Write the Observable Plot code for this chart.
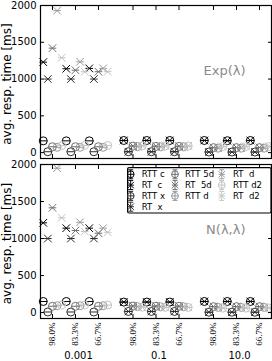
<!DOCTYPE html>
<html><head><meta charset="utf-8">
<script src="https://cdn.jsdelivr.net/npm/d3@7"></script>
<script src="https://cdn.jsdelivr.net/npm/@observablehq/plot@0.6"></script>
<style>
html,body{margin:0;padding:0;background:#fff;}
#chart{position:relative;width:272px;height:361px;overflow:hidden;font-family:"DejaVu Sans",sans-serif;}
#chart > svg{position:absolute;left:0;}
</style></head><body><div id="chart"></div>
<script>
// ---------- data ----------
const groups = ["0.001", "0.1", "10.0"];
const loads = ["98.0%", "83.3%", "66.7%"];
const methods = ["c", "x", "5d", "d", "d2"];
const panelLabels = ["Exp(λ)", "N(λ,λ)"];
const yTicks = [0, 500, 1000, 1500, 2000];
const yLabel = "avg. resp. time [ms]";

// rows: c, x, 5d, d, d2 ; columns: 0.001×(98.0,83.3,66.7), 0.1×(...), 10.0×(...)
const expRTT = [
  [160, 160, 160, 165, 165, 165, 165, 162, 165],
  [12, 12, 12, 12, 12, 12, 8, 8, 8],
  [80, 80, 80, 88, 85, 85, 68, 68, 68],
  [72, 72, 72, 80, 78, 78, 60, 60, 60],
  [95, 98, 98, 92, 90, 90, 82, 82, 82]
];
const expRT = [
  [1230, 1140, 1145, 165, 165, 165, 165, 162, 165],
  [1000, 1000, 1000, 12, 12, 12, 8, 8, 8],
  [1420, 1120, 1100, 90, 88, 88, 70, 70, 70],
  [1930, 1235, 1145, 82, 80, 80, 60, 62, 60],
  [1290, 1100, 1100, 95, 92, 92, 85, 85, 85]
];
const normRTT = [
  [150, 150, 150, 142, 142, 142, 150, 150, 150],
  [8, 8, 8, 15, 15, 15, 5, 5, 5],
  [85, 85, 85, 88, 86, 86, 80, 80, 80],
  [92, 92, 92, 80, 78, 78, 70, 70, 70],
  [102, 102, 102, 72, 70, 70, 60, 60, 60]
];
const normRT = [
  [1212, 1140, 1140, 142, 142, 142, 150, 150, 150],
  [1000, 1000, 1000, 15, 15, 15, 5, 5, 5],
  [1415, 1108, 1072, 90, 88, 88, 82, 82, 82],
  [1950, 1220, 1140, 80, 80, 80, 72, 72, 72],
  [1280, 1095, 1085, 72, 70, 70, 62, 62, 62]
];
const shades = ["#000000", "#2e2e2e", "#6e6e6e", "#9a9a9a", "#c4c4c4"];

// ---------- layout helpers ----------
const GROUP_STEP = 3.5, SLOT = 0.2;
const tickPos = groups.flatMap((g, gi) => loads.map((l, li) => gi * GROUP_STEP + li));
const tickText = new Map(groups.flatMap((g, gi) => loads.map((l, li) => [gi * GROUP_STEP + li, l])));
const groupMid = groups.map((g, gi) => gi * GROUP_STEP + 1);
const groupText = new Map(groups.map((g, gi) => [gi * GROUP_STEP + 1, g]));

function toRows(values) {
  const out = [];
  values.forEach((arr, mi) => arr.forEach((v, k) => {
    const gi = Math.floor(k / 3), li = k % 3;
    out.push({mi, group: groups[gi], load: loads[li], x: gi * GROUP_STEP + li + (mi - 2) * SLOT, y: v});
  }));
  return out;
}

const thetaSym = {draw(ctx, size) {
  const r = Math.sqrt(size / Math.PI);
  ctx.moveTo(r, 0); ctx.arc(0, 0, r, 0, 2 * Math.PI);
  ctx.moveTo(-r, 0); ctx.lineTo(r, 0);
}};
const xbarSym = {draw(ctx, size) {
  const r = Math.sqrt(size / Math.PI);
  ctx.moveTo(-r, -r); ctx.lineTo(r, r);
  ctx.moveTo(-r, r); ctx.lineTo(r, -r);
  ctx.moveTo(-r, 0); ctx.lineTo(r, 0);
}};

function panel({label, rtt, rt, height, marginTop, marginBottom, bottomLabels}) {
  const rttRows = toRows(rtt), rtRows = toRows(rt);
  const marks = [];
  methods.forEach((m, mi) => {
    marks.push(Plot.dot(rttRows.filter(d => d.mi === mi), {x: "x", y: "y", r: 4, symbol: thetaSym, stroke: shades[mi], fill: "none", strokeWidth: 1}));
    marks.push(Plot.dot(rtRows.filter(d => d.mi === mi), {x: "x", y: "y", r: 3.8, symbol: xbarSym, stroke: shades[mi], fill: "none", strokeWidth: 1}));
  });
  marks.push(
    Plot.axisY({ticks: yTicks, tickSize: 0, tickPadding: 4, tickFormat: d => String(d), label: null, fontSize: 10, fill: "#000"}),
    Plot.axisY({ticks: yTicks, tickSize: 4, dx: 4, tickFormat: () => "", label: null}),
    Plot.axisY({ticks: yTicks, anchor: "right", tickSize: 4, dx: -4, tickFormat: () => "", label: null}),
    Plot.axisX({ticks: tickPos, tickSize: 4, dy: -4, tickFormat: () => "", label: null}),
    Plot.axisX({ticks: tickPos, anchor: "top", tickSize: 4, dy: 4, tickFormat: () => "", label: null}),
    Plot.text([yLabel], {text: d => d, frameAnchor: "left", dx: -33, dy: 2, rotate: -90, textAnchor: "middle", lineAnchor: "middle", fontSize: 12, fill: "#000"}),
    Plot.text([label], {text: d => d, frameAnchor: "top-right", dx: -26, dy: 65, textAnchor: "end", lineAnchor: "middle", fontSize: 13, fill: "#8a8a8a"}),
    Plot.frame({stroke: "#000", strokeWidth: 1.2})
  );
  if (bottomLabels) {
    marks.push(
      Plot.axisX({ticks: tickPos, tickSize: 0, tickPadding: 4, tickRotate: -90, tickFormat: d => tickText.get(d), label: null, fontFamily: "Liberation Serif", fontSize: 9, fill: "#000"}),
      Plot.axisX({ticks: groupMid, tickSize: 0, tickPadding: 33, dx: 3, tickFormat: d => groupText.get(d), label: null, fontSize: 10, fill: "#000"})
    );
  }
  return Plot.plot({
    width: 272, height, marginTop, marginBottom, marginLeft: 40, marginRight: 1,
    x: {type: "linear", domain: [-0.52, 9.52]},
    y: {domain: [-80, 2000]},
    style: {fontFamily: "DejaVu Sans", fontSize: "10px", background: "transparent", overflow: "visible"},
    marks
  });
}

const chart = document.getElementById("chart");
const top1 = panel({label: panelLabels[0], rtt: expRTT, rt: expRT, height: 160, marginTop: 5, marginBottom: 2, bottomLabels: false});
top1.style.top = "0px";
chart.appendChild(top1);
const bot = panel({label: panelLabels[1], rtt: normRTT, rt: normRT, height: 201, marginTop: 4, marginBottom: 43, bottomLabels: true});
bot.style.top = "160px";
chart.appendChild(bot);

// ---------- legend ----------
const items = [];
methods.forEach((m, mi) => {
  items.push({mi, sym: thetaSym, r: 3.4, label: "RTT " + m});
  items.push({mi, sym: xbarSym, r: 3.2, label: "RT  " + m});
});
const colStart = [0, 4, 7, 10];
const colMarkX = [3.7, 48, 94.7];
const colTextX = [14.7, 58, 106];
const leg = d3.select(chart).append("svg")
  .attr("width", 145).attr("height", 47)
  .style("top", "167px").style("left", "127px");
leg.append("rect").attr("x", 0.6).attr("y", 0.6).attr("width", 143.4).attr("height", 45.4)
  .attr("rx", 1.5).attr("fill", "#fff").attr("stroke", "#000").attr("stroke-width", 1.2);
items.forEach((it, i) => {
  const col = i < colStart[1] ? 0 : i < colStart[2] ? 1 : 2;
  const row = i - colStart[col];
  const cx = colMarkX[col], cy = 7.3 + row * 10.8;
  const p = d3.path();
  p.moveTo(cx, cy - 4.5); p.lineTo(cx, cy + 4.5);
  p.moveTo(cx - 2.5, cy - 4.5); p.lineTo(cx + 2.5, cy - 4.5);
  p.moveTo(cx - 2.5, cy + 4.5); p.lineTo(cx + 2.5, cy + 4.5);
  leg.append("path").attr("d", p.toString()).attr("stroke", shades[it.mi]).attr("fill", "none").attr("stroke-width", 1);
  const q = d3.path();
  it.sym.draw(q, Math.PI * it.r * it.r);
  leg.append("path").attr("d", q.toString()).attr("transform", `translate(${cx},${cy})`)
    .attr("stroke", shades[it.mi]).attr("fill", "none").attr("stroke-width", 1);
  leg.append("text").attr("x", colTextX[col]).attr("y", cy).attr("dy", "0.35em")
    .style("white-space", "pre").attr("font-size", 8.5).attr("font-family", "DejaVu Sans")
    .attr("fill", "#000").text(it.label);
});
</script></body></html>
